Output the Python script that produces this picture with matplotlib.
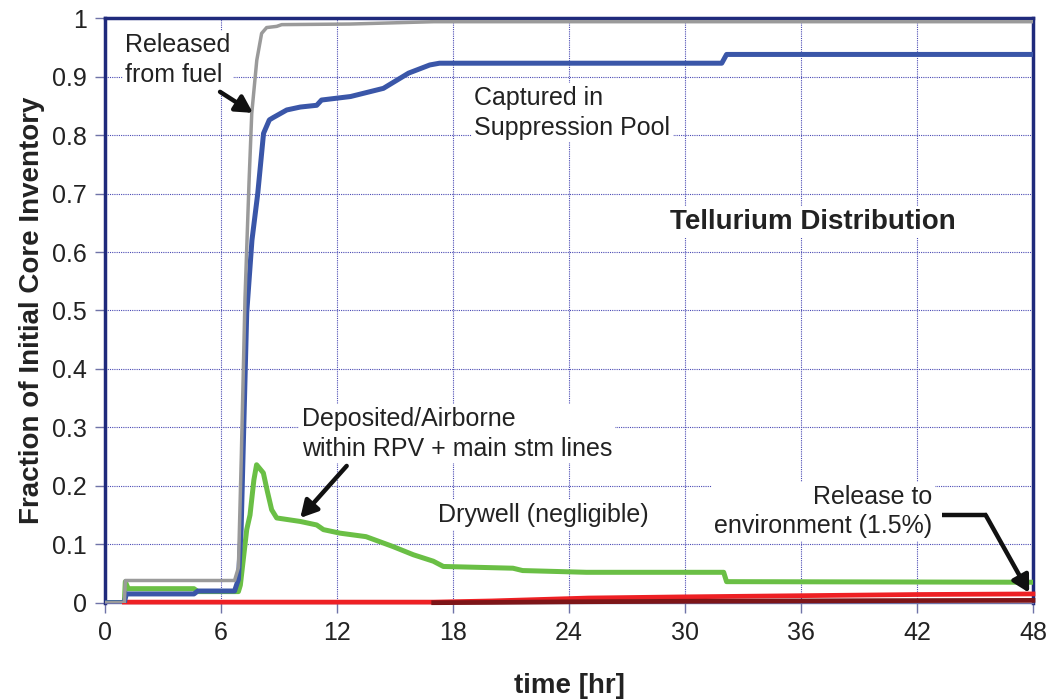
import matplotlib
matplotlib.use("Agg")
import matplotlib.pyplot as plt

plt.rcParams['font.family'] = ['Liberation Sans', 'DejaVu Sans']

# ---- data (time in hr, fraction of initial core inventory) ----
t_fuel = [0, 1.0, 1.05, 6.7, 6.9, 7.05, 7.24, 7.45, 7.59, 7.85, 8.1, 8.36, 8.88, 9.14, 12.67, 17.0, 48]
y_fuel = [0, 0, 0.038, 0.038, 0.06, 0.25, 0.52, 0.72, 0.837, 0.928, 0.974, 0.984, 0.986, 0.989, 0.990, 0.994, 0.994]

t_pool = [0, 1.0, 1.1, 4.6, 4.8, 6.7, 6.9, 7.04, 7.33, 7.6, 7.9, 8.2, 8.5, 8.7, 9.4, 10.1, 10.95, 11.2, 12.7,
          14.4, 15.7, 16.8, 17.3, 31.9, 32.15, 48]
y_pool = [0, 0, 0.015, 0.015, 0.02, 0.02, 0.04, 0.125, 0.496, 0.62, 0.70, 0.803, 0.826, 0.83, 0.843, 0.848, 0.851,
          0.86, 0.866, 0.880, 0.906, 0.920, 0.923, 0.923, 0.938, 0.938]

t_rpv = [0, 1.0, 1.05, 1.2, 4.6, 4.8, 6.9, 7.0, 7.33, 7.5, 7.7, 7.84, 8.19, 8.4, 8.62, 8.88, 10.1, 10.95, 11.3,
         12.15, 13.5, 14.9, 15.95, 16.98, 17.5, 21.1, 21.6, 24.9, 32.0, 32.15, 48]
y_rpv = [0, 0, 0.036, 0.024, 0.024, 0.019, 0.019, 0.03, 0.125, 0.15, 0.21, 0.236, 0.222, 0.19, 0.159, 0.145, 0.139,
         0.133, 0.125, 0.119, 0.113, 0.096, 0.082, 0.071, 0.062, 0.059, 0.055, 0.052, 0.052, 0.036, 0.035]

t_env = [1.0, 17.0, 20.0, 22.0, 25.0, 30.0, 36.0, 42.0, 48.0]
y_env = [0.001, 0.001, 0.003, 0.005, 0.008, 0.010, 0.012, 0.014, 0.015]

t_dry = [17.0, 20.0, 24.0, 30.0, 40.0, 48.0]
y_dry = [0, 0.0005, 0.0015, 0.0025, 0.0035, 0.004]

x_ticks = [0, 6, 12, 18, 24, 30, 36, 42, 48]
y_ticks = [0, 0.1, 0.2, 0.3, 0.4, 0.5, 0.6, 0.7, 0.8, 0.9, 1.0]
y_ticklabels = ['0', '0.1', '0.2', '0.3', '0.4', '0.5', '0.6', '0.7', '0.8', '0.9', '1']

# ---- figure ----
fig = plt.figure(figsize=(10.48, 7.0), dpi=100)
ax = fig.add_axes([0.1002, 0.139, 0.8855, 0.835])

navy = '#1f2a7c'
tickc = '#6f73a8'

ax.plot(t_env, y_env, color='#ee2024', lw=3.4, zorder=3, clip_on=False)
ax.plot(t_dry, y_dry, color='#7d1518', lw=3.4, zorder=3.2, clip_on=False)
ax.plot(t_rpv, y_rpv, color='#6abf45', lw=3.6, zorder=4)
ax.plot(t_pool, y_pool, color='#3a56a8', lw=3.6, zorder=5)
ax.plot(t_fuel, y_fuel, color='#9a9a9a', lw=2.5, zorder=6)

ax.set_xlim(0, 48)
ax.set_ylim(0, 1)
ax.set_xticks(x_ticks)
ax.set_xticklabels([str(v) for v in x_ticks])
ax.set_yticks(y_ticks)
ax.set_yticklabels(y_ticklabels)

ax.grid(True, color='#4a4ab4', linestyle=(0, (1, 1)), lw=0.8, zorder=1)
ax.set_axisbelow(True)

for s in ['left', 'top', 'right']:
    ax.spines[s].set_color(navy)
    ax.spines[s].set_linewidth(2.5)
ax.spines['bottom'].set_color(tickc)
ax.spines['bottom'].set_linewidth(1.0)

ax.tick_params(axis='both', direction='out', colors=tickc, labelcolor='#222222', labelsize=18, length=7, width=1)
ax.tick_params(axis='x', pad=6)
ax.tick_params(axis='y', pad=6)

ax.set_xlabel('time [hr]', fontsize=20, fontweight='bold', color='#222222', labelpad=20)
ax.set_ylabel('Fraction of Initial Core Inventory', fontsize=20, fontweight='bold', color='#222222', labelpad=5)

box = dict(facecolor='white', edgecolor='none', pad=2)
tc = '#222222'
fs = 18
ls = 1.3

ax.text(1.05, 0.928, 'Released\nfrom fuel', fontsize=fs, color=tc, ha='left', va='center',
        linespacing=ls, bbox=box, zorder=7)
ax.text(19.1, 0.838, 'Captured in\nSuppression Pool', fontsize=fs, color=tc, ha='left', va='center',
        linespacing=ls, bbox=box, zorder=7)
ax.text(36.6, 0.651, 'Tellurium Distribution', fontsize=20, fontweight='bold', color=tc,
        ha='center', va='center', bbox=box, zorder=7)
ax.text(10.2, 0.289, 'Deposited/Airborne\nwithin RPV + main stm lines', fontsize=fs, color=tc, ha='left',
        va='center', linespacing=ls, bbox=box, zorder=7)
ax.text(17.2, 0.150, 'Drywell (negligible)', fontsize=fs, color=tc, ha='left', va='center',
        bbox=box, zorder=7)
ax.text(42.8, 0.156, 'Release to\nenvironment (1.5%)', fontsize=fs, color=tc, ha='right', va='center',
        linespacing=ls, multialignment='right', bbox=box, zorder=7)

arrow_kw = dict(arrowstyle='-|>,head_length=1.0,head_width=0.55', color='#111111', lw=3.2, shrinkA=0, shrinkB=0)
ax.annotate('', xy=(7.65, 0.838), xytext=(5.95, 0.874), arrowprops=arrow_kw, zorder=8)
ax.annotate('', xy=(10.1, 0.145), xytext=(12.5, 0.234), arrowprops=arrow_kw, zorder=8)
ax.plot([43.3, 45.6], [0.150, 0.150], color='#111111', lw=3.2, zorder=8, solid_capstyle='butt')
ax.annotate('', xy=(47.8, 0.017), xytext=(45.55, 0.150), arrowprops=arrow_kw, zorder=8)

fig.savefig('out.png', dpi=100)
